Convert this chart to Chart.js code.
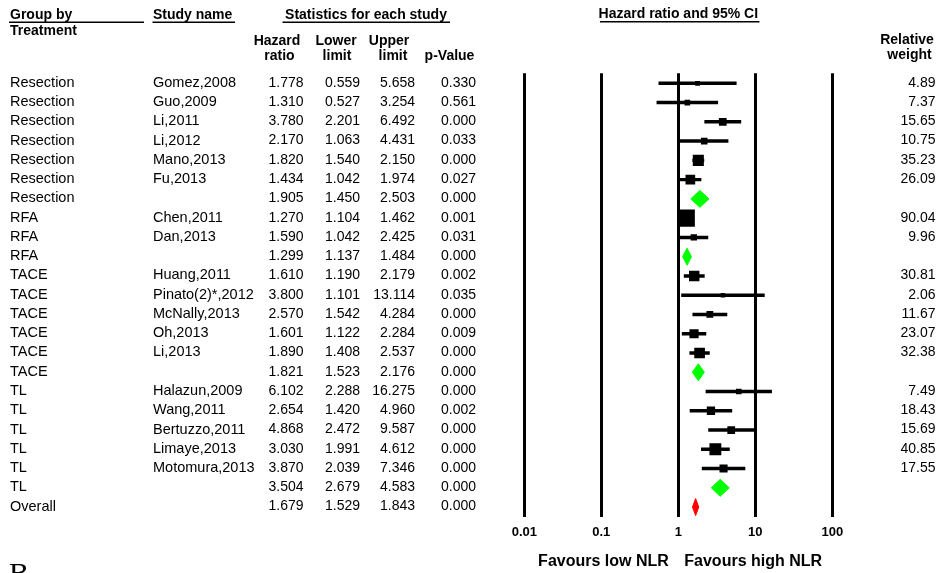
<!DOCTYPE html>
<html>
<head>
<meta charset="utf-8">
<script src="https://cdn.jsdelivr.net/npm/chart.js@4/dist/chart.umd.min.js"></script>
<style>
  html, body { margin: 0; padding: 0; background: #fff; }
  canvas { display: block; }
</style>
</head>
<body>
<canvas id="forest" width="939" height="573"></canvas>
<script>
// Data (empty study name = subgroup summary row)
const groups = ['Resection', 'Resection', 'Resection', 'Resection', 'Resection', 'Resection', 'Resection',
    'RFA', 'RFA', 'RFA',
    'TACE', 'TACE', 'TACE', 'TACE', 'TACE', 'TACE',
    'TL', 'TL', 'TL', 'TL', 'TL', 'TL',
    'Overall'];
const studies = ['Gomez,2008', 'Guo,2009', 'Li,2011', 'Li,2012', 'Mano,2013', 'Fu,2013', '',
    'Chen,2011', 'Dan,2013', '',
    'Huang,2011', 'Pinato(2)*,2012', 'McNally,2013', 'Oh,2013', 'Li,2013', '',
    'Halazun,2009', 'Wang,2011', 'Bertuzzo,2011', 'Limaye,2013', 'Motomura,2013', '',
    ''];
const hazardRatio = [1.778, 1.310, 3.780, 2.170, 1.820, 1.434, 1.905,
    1.270, 1.590, 1.299,
    1.610, 3.800, 2.570, 1.601, 1.890, 1.821,
    6.102, 2.654, 4.868, 3.030, 3.870, 3.504,
    1.679];
const lowerLimit = [0.559, 0.527, 2.201, 1.063, 1.540, 1.042, 1.450,
    1.104, 1.042, 1.137,
    1.190, 1.101, 1.542, 1.122, 1.408, 1.523,
    2.288, 1.420, 2.472, 1.991, 2.039, 2.679,
    1.529];
const upperLimit = [5.658, 3.254, 6.492, 4.431, 2.150, 1.974, 2.503,
    1.462, 2.425, 1.484,
    2.179, 13.114, 4.284, 2.284, 2.537, 2.176,
    16.275, 4.960, 9.587, 4.612, 7.346, 4.583,
    1.843];
const pValue = [0.330, 0.561, 0.000, 0.033, 0.000, 0.027, 0.000,
    0.001, 0.031, 0.000,
    0.002, 0.035, 0.000, 0.009, 0.000, 0.000,
    0.000, 0.002, 0.000, 0.000, 0.000, 0.000,
    0.000];
const weights = [4.89, 7.37, 15.65, 10.75, 35.23, 26.09, null,
    90.04, 9.96, null,
    30.81, 2.06, 11.67, 23.07, 32.38, null,
    7.49, 18.43, 15.69, 40.85, 17.55, null,
    null];
const tickValues = [0.01, 0.1, 1, 10, 100];

const FONT = "'Liberation Sans', Arial, sans-serif";
const rows = groups.map((g, i) => i);
const studyRows = rows.filter(i => weights[i] !== null);
const summaryRows = rows.filter(i => weights[i] === null);

// Confidence interval lines as floating bars
const ciData = studyRows.map(i => ({ x: [lowerLimit[i], upperLimit[i]], y: i }));
// Weighted squares
const boxData = studyRows.map(i => ({ x: hazardRatio[i], y: i, w: weights[i] }));

// Diamonds for subgroup / overall summaries
const DIAMOND_HALF = 0.44;
const diamondSets = summaryRows.map(i => ({
    type: 'line',
    data: [
        { x: lowerLimit[i], y: i },
        { x: hazardRatio[i], y: i - DIAMOND_HALF },
        { x: upperLimit[i], y: i },
        { x: hazardRatio[i], y: i + DIAMOND_HALF },
        { x: lowerLimit[i], y: i }
    ],
    borderWidth: 1,
    borderColor: groups[i] === 'Overall' ? '#ff0000' : '#00ff00',
    backgroundColor: groups[i] === 'Overall' ? '#ff0000' : '#00ff00',
    fill: 'shape',
    tension: 0,
    pointRadius: 0
}));

// Table text + headers
const tablePlugin = {
    id: 'forestTable',
    afterDraw(chart) {
        const ctx = chart.ctx;
        const y = chart.scales.y;
        const x = chart.scales.x;
        const reg = '14px ' + FONT;
        const name = '14.5px ' + FONT;
        const bold = 'bold 14px ' + FONT;

        function text(s, px, py, align, font) {
            ctx.font = font;
            ctx.textAlign = align;
            ctx.textBaseline = 'middle';
            ctx.fillStyle = '#000';
            ctx.fillText(s, px, py);
        }
        function uline(x0, x1, py) {
            ctx.fillStyle = '#000';
            ctx.fillRect(x0, py, x1 - x0, 1.5);
        }

        ctx.save();
        // top headers
        text('Group by', 10, 15, 'left', bold);
        text('Treatment', 10, 31, 'left', bold);
        text('Study name', 153, 15, 'left', bold);
        text('Statistics for each study', 366, 15, 'center', bold);
        text('Hazard ratio and 95% CI', x.getPixelForValue(1), 14, 'center', bold);
        uline(9, 144, 21.5);
        uline(152.5, 235, 21.5);
        uline(282.5, 450, 21.5);
        uline(600, 759.5, 21);

        text('Hazard', 277, 41.5, 'center', bold);
        text('ratio', 279.5, 56.5, 'center', bold);
        text('Lower', 336, 41.5, 'center', bold);
        text('limit', 337, 56.5, 'center', bold);
        text('Upper', 389, 41.5, 'center', bold);
        text('limit', 393, 56.5, 'center', bold);
        text('p-Value', 449.5, 56.5, 'center', bold);
        text('Relative', 907, 40.5, 'center', bold);
        text('weight', 909.5, 55.5, 'center', bold);

        // rows
        rows.forEach(i => {
            const py = y.getPixelForValue(i) - 0.5;
            text(groups[i], 10, py, 'left', name);
            if (studies[i]) text(studies[i], 153, py, 'left', name);
            text(hazardRatio[i].toFixed(3), 303.5, py, 'right', reg);
            text(lowerLimit[i].toFixed(3), 360, py, 'right', reg);
            text(upperLimit[i].toFixed(3), 415, py, 'right', reg);
            text(pValue[i].toFixed(3), 476, py, 'right', reg);
            if (weights[i] !== null) text(weights[i].toFixed(2), 935.5, py, 'right', reg);
        });

        // favours labels around the line of no effect
        const one = x.getPixelForValue(1);
        text('Favours low NLR', one - 9.5, 561.5, 'right', 'bold 16px ' + FONT);
        text('Favours high NLR', one + 6, 561.5, 'left', 'bold 16px ' + FONT);

        // next panel label, cut by the image edge
        ctx.font = "30px 'Liberation Serif', 'Times New Roman', serif";
        ctx.textAlign = 'left';
        ctx.textBaseline = 'alphabetic';
        ctx.fillText('B', 9, 583);
        ctx.restore();
    }
};

Chart.defaults.font.family = FONT;
Chart.defaults.color = '#000';

new Chart(document.getElementById('forest'), {
    type: 'scatter',
    data: {
        datasets: [
            {
                type: 'scatter',
                data: boxData,
                pointStyle: 'rect',
                backgroundColor: '#000',
                borderWidth: 0,
                pointRadius: ctx => {
                    const w = ctx.raw ? ctx.raw.w : 0;
                    const side = Math.max(4.5, 1.7 * Math.sqrt(w) + 1);
                    return side / Math.SQRT2;
                }
            },
            {
                type: 'bar',
                indexAxis: 'y',
                data: ciData,
                backgroundColor: '#000',
                borderWidth: 0,
                barThickness: 2.8,
                grouped: false
            },
            ...diamondSets
        ]
    },
    options: {
        responsive: false,
        animation: false,
        layout: { padding: { left: 524.3, right: 106.7, top: 73.3, bottom: 0 } },
        plugins: { legend: { display: false }, tooltip: { enabled: false } },
        scales: {
            x: {
                type: 'logarithmic',
                min: 0.01,
                max: 100,
                offset: false,
                afterBuildTicks: scale => { scale.ticks = tickValues.map(v => ({ value: v })); },
                afterFit: scale => { scale.height = 56.3; },
                ticks: {
                    autoSkip: false,
                    maxRotation: 0,
                    padding: 7.5,
                    color: '#000',
                    font: { size: 13, weight: 'bold' },
                    callback: v => String(v)
                },
                grid: { color: '#000', lineWidth: 3, drawTicks: false, offset: false },
                border: { display: false }
            },
            y: {
                type: 'linear',
                display: false,
                reverse: true,
                offset: false,
                grace: 0,
                min: -0.52,
                max: 22.5,
                grid: { offset: false }
            }
        }
    },
    plugins: [tablePlugin]
});
</script>
</body>
</html>
